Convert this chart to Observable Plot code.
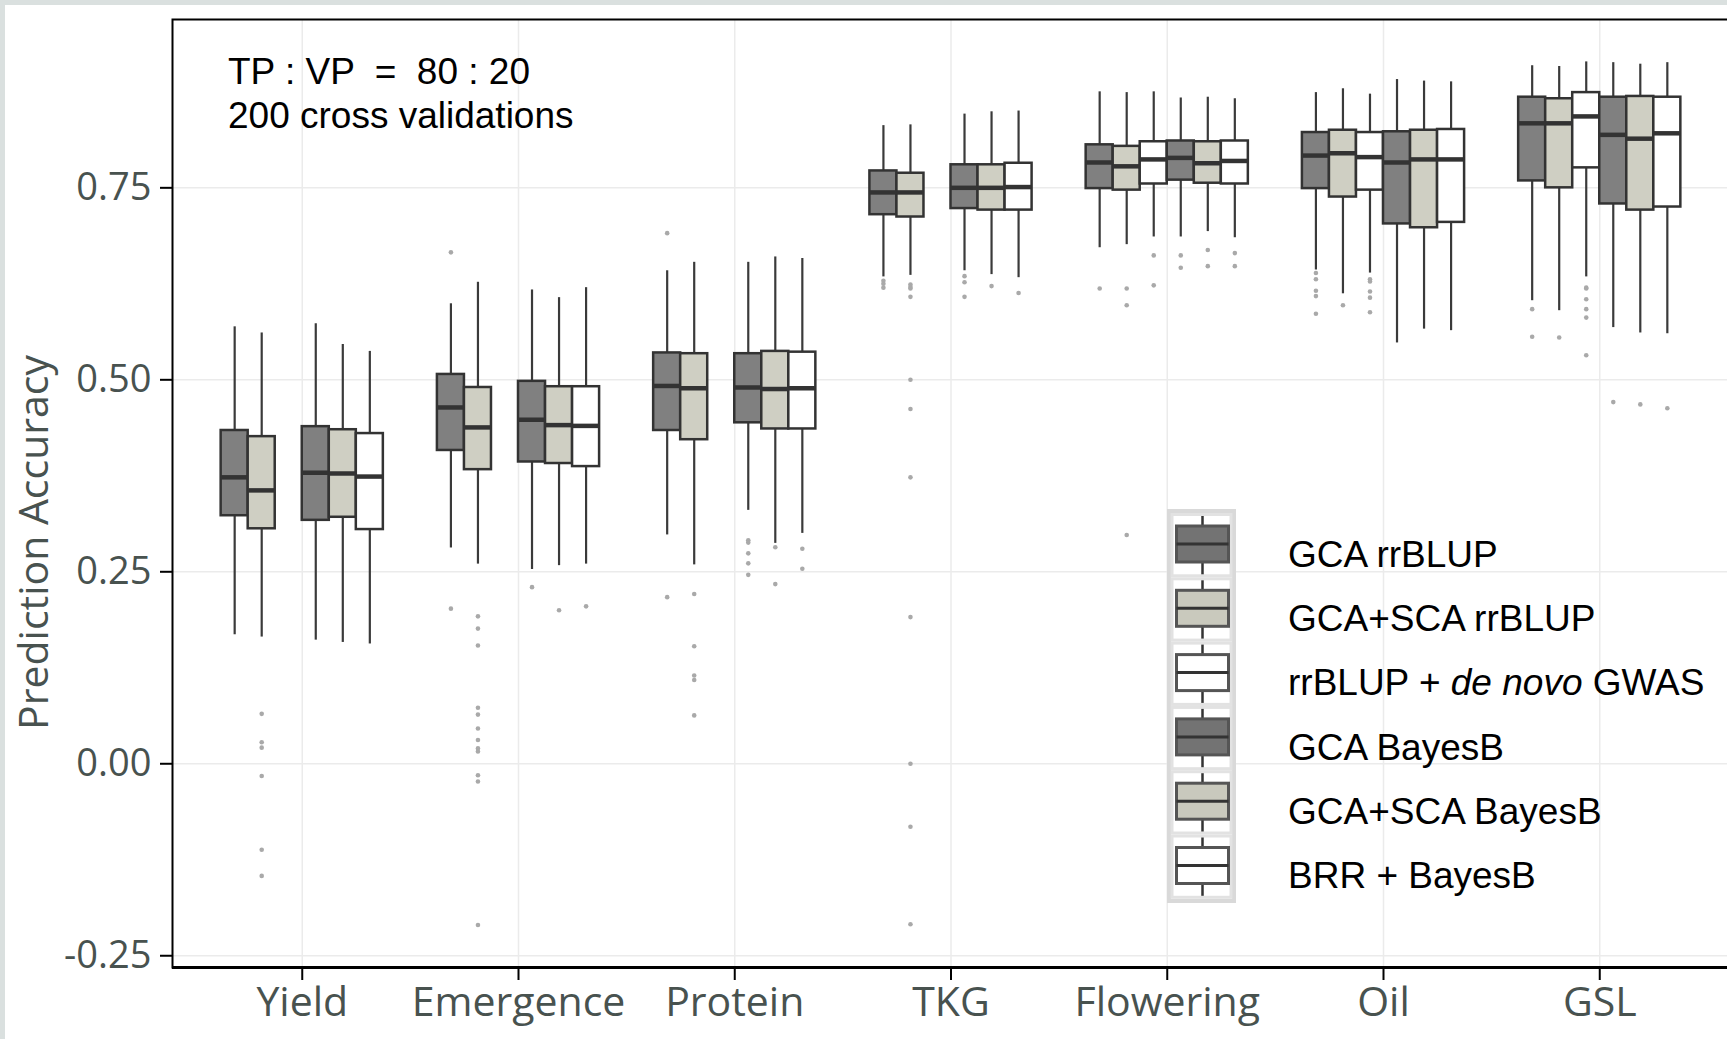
<!DOCTYPE html>
<html>
<head>
<meta charset="utf-8">
<script src="https://cdn.jsdelivr.net/npm/d3@7"></script>
<script src="https://cdn.jsdelivr.net/npm/@observablehq/plot@0.6"></script>
<style>
  html, body { margin: 0; padding: 0; }
  body { background: #dae0df; width: 1727px; height: 1039px; overflow: hidden; position: relative; }
  #sheet { position: absolute; left: 5px; top: 5px; width: 1722px; height: 1034px; background: #fff; }
  #chart { position: absolute; left: 0; top: 0; }
  #overlay { position: absolute; left: 0; top: 0; }
</style>
</head>
<body>
<div id="sheet"></div>
<div id="chart"></div>
<svg id="overlay" width="1727" height="1039"></svg>
<script>
// Traits on the x axis and the six prediction models (dodged within each trait)
const traits = ["Yield", "Emergence", "Protein", "TKG", "Flowering", "Oil", "GSL"];
const methods = ["GCA rrBLUP", "GCA+SCA rrBLUP", "rrBLUP + de novo GWAS", "GCA BayesB", "GCA+SCA BayesB", "BRR + BayesB"];
const yTicks = [-0.25, 0, 0.25, 0.5, 0.75];

// Five-number summaries per trait: [lower whisker, Q1, median, Q3, upper whisker]
const gcaRrblup = [
  [0.168, 0.323, 0.373, 0.434, 0.569],
  [0.281, 0.408, 0.464, 0.507, 0.599],
  [0.298, 0.434, 0.492, 0.535, 0.642],
  [0.634, 0.715, 0.744, 0.772, 0.831],
  [0.672, 0.749, 0.783, 0.806, 0.875],
  [0.643, 0.749, 0.792, 0.822, 0.874],
  [0.603, 0.759, 0.834, 0.868, 0.909]
];
const gcaScaRrblup = [
  [0.165, 0.306, 0.356, 0.426, 0.561],
  [0.260, 0.383, 0.438, 0.490, 0.627],
  [0.259, 0.422, 0.489, 0.534, 0.653],
  [0.636, 0.712, 0.744, 0.769, 0.832],
  [0.676, 0.747, 0.778, 0.804, 0.874],
  [0.612, 0.738, 0.795, 0.825, 0.879],
  [0.590, 0.750, 0.834, 0.866, 0.908]
];
const deNovoGwas = [
  null, null, null, null,
  [0.686, 0.755, 0.787, 0.810, 0.875],
  [0.639, 0.747, 0.790, 0.822, 0.872],
  [0.634, 0.776, 0.843, 0.874, 0.914]
];
const gcaBayesB = [
  [0.161, 0.317, 0.379, 0.439, 0.573],
  [0.253, 0.393, 0.448, 0.498, 0.617],
  [0.330, 0.444, 0.490, 0.534, 0.653],
  [0.642, 0.723, 0.750, 0.780, 0.846],
  [0.686, 0.760, 0.789, 0.811, 0.867],
  [0.548, 0.703, 0.783, 0.823, 0.891],
  [0.568, 0.729, 0.819, 0.868, 0.913]
];
const gcaScaBayesB = [
  [0.158, 0.321, 0.378, 0.435, 0.546],
  [0.258, 0.391, 0.441, 0.491, 0.607],
  [0.287, 0.436, 0.488, 0.537, 0.660],
  [0.637, 0.721, 0.750, 0.780, 0.849],
  [0.693, 0.756, 0.782, 0.810, 0.868],
  [0.566, 0.698, 0.787, 0.825, 0.889],
  [0.561, 0.721, 0.814, 0.869, 0.911]
];
const brrBayesB = [
  [0.156, 0.305, 0.374, 0.430, 0.537],
  [0.260, 0.387, 0.440, 0.491, 0.620],
  [0.300, 0.436, 0.489, 0.536, 0.658],
  [0.633, 0.721, 0.751, 0.782, 0.850],
  [0.685, 0.755, 0.785, 0.811, 0.866],
  [0.564, 0.705, 0.787, 0.826, 0.888],
  [0.560, 0.725, 0.821, 0.868, 0.913]
];

// Outlying cross-validation accuracies per trait
const outGcaRrblup = [[], [0.666, 0.202], [0.691, 0.217], [0.629, 0.625, 0.620], [0.619],
  [0.639, 0.631, 0.616, 0.609, 0.586], [0.592, 0.556]];
const outGcaScaRrblup = [
  [0.065, 0.028, 0.021, -0.016, -0.112, -0.146],
  [0.192, 0.176, 0.154, 0.073, 0.064, 0.046, 0.031, 0.020, 0.016, -0.015, -0.023, -0.210],
  [0.221, 0.153, 0.115, 0.109, 0.063],
  [0.624, 0.621, 0.619, 0.608, 0.500, 0.462, 0.373, 0.191, 0.000, -0.082, -0.209],
  [0.619, 0.597, 0.298], [0.597], [0.555]];
const outDeNovoGwas = [[], [], [], [], [0.662, 0.623], [0.631, 0.628, 0.615, 0.607, 0.588],
  [0.620, 0.619, 0.605, 0.592, 0.581, 0.532]];
const outGcaBayesB = [[], [0.230], [0.291, 0.288, 0.274, 0.261, 0.246], [0.635, 0.627, 0.608],
  [0.662, 0.646], [], [0.471]];
const outGcaScaBayesB = [[], [0.200], [0.282, 0.234], [0.622], [0.669, 0.648], [], [0.468]];
const outBrrBayesB = [[], [0.205], [0.280, 0.254], [0.613], [0.665, 0.648], [], [0.463]];

const summaries = [gcaRrblup, gcaScaRrblup, deNovoGwas, gcaBayesB, gcaScaBayesB, brrBayesB];
const outliers = [outGcaRrblup, outGcaScaRrblup, outDeNovoGwas, outGcaBayesB, outGcaScaBayesB, outBrrBayesB];

// Box fills per model
const fills = ["#808080", "#cfcfc3", "#ffffff", "#808080", "#cfcfc3", "#ffffff"];
const textGray = "#48524f";

// Dodge: six slots share 0.75 of each trait's band
const slot = 0.75 / methods.length;
const center = (t, m) => t + 1 + (m - (methods.length - 1) / 2) * slot;

const boxes = [];
summaries.forEach((rows, m) => rows.forEach((s, t) => {
  if (!s) return;
  const xc = center(t, m);
  boxes.push({method: methods[m], xc, x1: xc - slot / 2, x2: xc + slot / 2,
    lo: s[0], q1: s[1], med: s[2], q3: s[3], hi: s[4]});
}));
const points = [];
outliers.forEach((rows, m) => rows.forEach((vals, t) =>
  vals.forEach(v => points.push({method: methods[m], xc: center(t, m), v}))));

const yMin = -0.2653, yMax = 0.9692;
const ruleStyle = {stroke: "#3a3a3a", strokeWidth: 2.2};

const chart = Plot.plot({
  width: 1727,
  height: 1039,
  marginLeft: 172,
  marginRight: -2,
  marginTop: 19,
  marginBottom: 72,
  style: {background: "transparent", fontFamily: "'Open Sans', sans-serif", maxWidth: "none", overflow: "visible"},
  x: {type: "linear", domain: [0.4, 7.6], axis: null},
  y: {domain: [yMin, yMax], axis: null},
  color: {type: "ordinal", domain: methods, range: fills},
  marks: [
    Plot.gridY(yTicks, {stroke: "#ebebeb", strokeOpacity: 1, strokeWidth: 1.5}),
    Plot.gridX(d3.range(1, traits.length + 1), {stroke: "#ebebeb", strokeOpacity: 1, strokeWidth: 1.5}),
    Plot.ruleX(boxes, {x: "xc", y1: "q3", y2: "hi", ...ruleStyle}),
    Plot.ruleX(boxes, {x: "xc", y1: "lo", y2: "q1", ...ruleStyle}),
    Plot.rect(boxes, {x1: "x1", x2: "x2", y1: "q1", y2: "q3", fill: "method", stroke: "#333", strokeWidth: 2.5}),
    Plot.ruleY(boxes, {y: "med", x1: "x1", x2: "x2", stroke: "#333", strokeWidth: 4.5}),
    Plot.dot(points, {x: "xc", y: "v", r: 2.3, fill: "#a9a9a9", stroke: "none"}),
    Plot.frame({stroke: "#000", strokeWidth: 2}),
    Plot.ruleY([yMin], {stroke: "#000", strokeWidth: 3}),
    Plot.axisY(yTicks, {tickSize: 12, tickPadding: 9, fontSize: 38, stroke: "#000", strokeWidth: 2,
      fill: textGray, tickFormat: d => d.toFixed(2), label: null}),
    Plot.axisX(d3.range(1, traits.length + 1), {tickSize: 13, tickPadding: 6, fontSize: 41, stroke: "#000",
      strokeWidth: 2, fill: textGray, tickFormat: i => traits[i - 1], label: null}),
    Plot.text(["Prediction Accuracy"], {frameAnchor: "left", textAnchor: "middle", dx: -138, dy: 49,
      rotate: -90, fontSize: 41, fill: textGray})
  ]
});
document.getElementById("chart").appendChild(chart);

// Annotation and box-glyph legend
const overlay = d3.select("#overlay");
const sans = "'Liberation Sans', Arial, sans-serif";
const note = overlay.append("g").attr("font-family", sans).attr("font-size", 37).attr("fill", "#000");
note.append("text").attr("x", 228).attr("y", 84).style("white-space", "pre").text("TP : VP  =  80 : 20");
note.append("text").attr("x", 228).attr("y", 128).text("200 cross validations");

const legendFills = ["#737373", "#c9c9bd", "#ffffff", "#737373", "#c9c9bd", "#ffffff"];
const lg = overlay.append("g");
lg.append("rect").attr("x", 1169).attr("y", 511).attr("width", 65).attr("height", 390)
  .attr("fill", "#fff").attr("stroke", "#d9d9d9").attr("stroke-width", 4);
const keyH = 64.3;
methods.forEach((name, i) => {
  const top = 513 + i * keyH;
  const g = lg.append("g");
  g.append("rect").attr("x", 1172).attr("y", top + 1.5).attr("width", 59).attr("height", keyH - 3)
    .attr("fill", "#fff").attr("stroke", "#e2e2e2").attr("stroke-width", 3);
  g.append("line").attr("x1", 1202.5).attr("x2", 1202.5).attr("y1", top + 3).attr("y2", top + keyH - 3)
    .attr("stroke", "#333").attr("stroke-width", 2.5);
  g.append("rect").attr("x", 1176.5).attr("y", top + 13).attr("width", 52).attr("height", 36)
    .attr("fill", legendFills[i]).attr("stroke", "#555").attr("stroke-width", 3);
  g.append("line").attr("x1", 1176.5).attr("x2", 1228.5).attr("y1", top + 31).attr("y2", top + 31)
    .attr("stroke", "#333").attr("stroke-width", 3);
  const t = g.append("text").attr("x", 1288).attr("y", 566.7 + i * keyH)
    .attr("font-family", sans).attr("font-size", 37).attr("fill", "#000").style("white-space", "pre");
  if (name.includes("de novo")) {
    t.append("tspan").text("rrBLUP + ");
    t.append("tspan").attr("font-style", "italic").text("de novo");
    t.append("tspan").text(" GWAS");
  } else {
    t.text(name);
  }
});
</script>
</body>
</html>
